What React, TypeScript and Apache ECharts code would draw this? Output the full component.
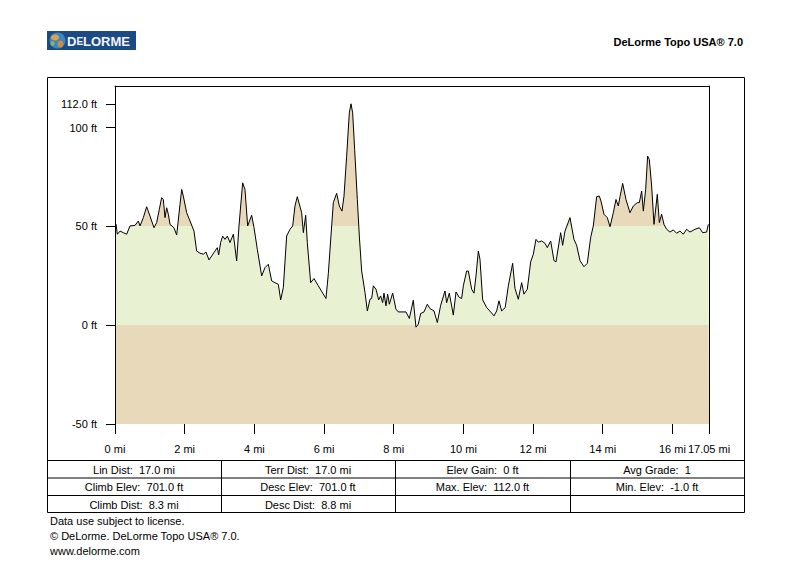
import React, { useEffect, useRef } from "react";
import * as echarts from "echarts";

// ---- data (miles, feet) ----
const distances = [
  0, 0.03, 0.067, 0.144, 0.239, 0.335, 0.43, 0.574, 0.67, 0.718, 0.813, 0.909, 1.005, 1.119, 1.196, 1.272,
  1.339, 1.387, 1.435, 1.483, 1.531, 1.579, 1.693, 1.77, 1.799, 1.866, 1.914, 1.961, 2.057, 2.153, 2.267,
  2.344, 2.44, 2.535, 2.612, 2.698, 2.775, 2.87, 2.937, 2.975, 3.033, 3.09, 3.157, 3.224, 3.301, 3.397,
  3.492, 3.559, 3.664, 3.731, 3.808, 3.923, 3.99, 4.085, 4.21, 4.305, 4.401, 4.497, 4.592, 4.688, 4.755,
  4.832, 4.927, 5.023, 5.1, 5.166, 5.233, 5.358, 5.406, 5.473, 5.52, 5.616, 5.712, 5.836, 6.056, 6.123,
  6.219, 6.267, 6.362, 6.439, 6.515, 6.573, 6.649, 6.726, 6.774, 6.822, 6.879, 6.956, 7.013, 7.08, 7.176,
  7.243, 7.319, 7.367, 7.415, 7.491, 7.568, 7.625, 7.683, 7.721, 7.778, 7.826, 7.874, 7.97, 8.065, 8.132,
  8.353, 8.448, 8.563, 8.639, 8.706, 8.774, 8.869, 8.965, 9.041, 9.156, 9.252, 9.348, 9.472, 9.52, 9.596,
  9.711, 9.788, 9.883, 9.95, 9.998, 10.094, 10.142, 10.237, 10.304, 10.362, 10.429, 10.476, 10.553, 10.668,
  10.783, 10.878, 10.955, 11.022, 11.098, 11.2, 11.29, 11.414, 11.481, 11.577, 11.672, 11.739, 11.835,
  11.931, 12.007, 12.084, 12.151, 12.246, 12.342, 12.409, 12.505, 12.6, 12.658, 12.792, 12.849, 12.916,
  13.06, 13.174, 13.251, 13.346, 13.461, 13.557, 13.653, 13.729, 13.825, 13.902, 13.949, 14.036, 14.131,
  14.208, 14.304, 14.38, 14.447, 14.495, 14.572, 14.667, 14.782, 14.878, 14.993, 15.05, 15.117, 15.165,
  15.232, 15.289, 15.337, 15.404, 15.471, 15.566, 15.624, 15.691, 15.758, 15.834, 15.929, 16.025, 16.121,
  16.217, 16.312, 16.408, 16.504, 16.647, 16.772, 16.868, 16.982, 17.03, 17.05,
];
const elevations = [
  50, 51, 46, 47.6, 46.8, 46, 50.2, 50.5, 52.7, 50.2, 54.4, 59.9, 55.2, 49.3, 51.9, 58.6,
  64.5, 63.6, 54.4, 59.4, 56.1, 51, 49.3, 45.6, 50.2, 61.1, 68.7, 65.3, 56.9, 52.7, 47.6,
  37.5, 36.4, 35.9, 37, 33, 35, 37.5, 39.2, 35.5, 41.8, 45.1, 43.4, 45.1, 41.8, 46,
  32.5, 50.2, 72, 68.7, 50.2, 55.6, 49.3, 38.4, 24.9, 29.1, 30.8, 22.4, 21.5, 20.7, 12.8,
  19, 45.1, 48.5, 50.2, 60.3, 65, 56.9, 46.8, 55.6, 41.8, 21.5, 23.6, 19.9, 13.5, 26,
  50.2, 62, 66.7, 60.3, 57.7, 65.3, 85.5, 107.4, 112, 107.4, 88.9, 63.6, 45.1, 27.4, 16.5,
  7.2, 13.1, 13.5, 19.9, 18.2, 12.8, 14.8, 11.4, 16.2, 9.8, 15.7, 10.6, 16.2, 8.1, 6.7,
  6.7, 3.4, 12.6, -1, 0.5, 5.9, 6.7, 10.6, 8.4, 7.2, 1.3, 10.1, 17.3, 11.4, 16.2,
  5.1, 16.8, 14, 13.5, 19.9, 27.4, 27.4, 18.2, 16.2, 24.9, 37.5, 33.3, 12.8, 8.9,
  6.7, 4.7, 7.2, 12.3, 7.2, 8.9, 19.9, 31.3, 18.6, 13.1, 21.5, 15.7, 18.2,
  32, 35.9, 43.4, 42, 42.6, 41.4, 39.2, 42.6, 32.7, 32, 46.8, 40.4, 47.6,
  54.4, 43.4, 40.4, 32.7, 29.6, 31.3, 44.3, 50.2, 65, 65.3, 62.8, 56.1, 54.4,
  49.8, 56.9, 63.6, 60.3, 65, 71.7, 63.6, 56.9, 60.3, 62, 62, 67.8, 57.7,
  68.7, 85.5, 83.8, 70.4, 51, 66.2, 51.9, 56.1, 51, 48.5, 47.1, 48.2, 46.5,
  47.6, 46, 48.5, 47.1, 48.5, 49.3, 46.8, 47.1, 51, 51,
];
const yTickValues = [-50, 0, 50, 100, 112];
const xTickValues = [0, 2, 4, 6, 8, 10, 12, 14, 16, 17.05];
const yMin = -50;
const yMax = 121;
const xMax = 17.05;
const bandStep = 50;

const statRows = [
  ["Lin Dist:  17.0 mi", "Terr Dist:  17.0 mi", "Elev Gain:  0 ft", "Avg Grade:  1"],
  ["Climb Elev:  701.0 ft", "Desc Elev:  701.0 ft", "Max. Elev:  112.0 ft", "Min. Elev:  -1.0 ft"],
  ["Climb Dist:  8.3 mi", "Desc Dist:  8.8 mi", "", ""],
];
const footerLines = [
  "Data use subject to license.",
  "\u00a9 DeLorme. DeLorme Topo USA\u00ae 7.0.",
  "www.delorme.com",
];
const titleText = "DeLorme Topo USA\u00ae 7.0";

const FONT = "'Liberation Sans', Arial, sans-serif";
const GREEN = "#E9F1D3";
const BEIGE = "#E8D9BA";

export default function App() {
  const ref = useRef<HTMLDivElement>(null);

  useEffect(() => {
    if (!ref.current) return;
    const chart = echarts.init(ref.current, null, { renderer: "svg" });

    const points = distances.map((d, i) => [d, elevations[i]]);
    const vmax = Math.max(...elevations);
    const span = vmax - yMin;
    const o50 = (vmax - bandStep) / span;
    const o0 = vmax / span;
    const fill = new echarts.graphic.LinearGradient(0, 0, 0, 1, [
      { offset: 0, color: BEIGE },
      { offset: o50, color: BEIGE },
      { offset: o50, color: GREEN },
      { offset: o0, color: GREEN },
      { offset: o0, color: BEIGE },
      { offset: 1, color: BEIGE },
    ]);

    // frame & table layout
    const frameL = 47, frameR = 744, frameT = 77, frameB = 512;
    const rowYs = [460, 477.5, 495];
    const colXs = [frameL, 221, 395, 570, frameR];
    const graphics: any[] = [];
    graphics.push({
      type: "rect",
      shape: { x: frameL + 0.5, y: frameT + 0.5, width: frameR - frameL, height: frameB - frameT },
      style: { fill: "none", stroke: "#000", lineWidth: 1 },
      silent: true,
    });
    rowYs.forEach((y) => {
      graphics.push({
        type: "line",
        shape: { x1: frameL, y1: y + 0.5, x2: frameR, y2: y + 0.5 },
        style: { stroke: "#000", lineWidth: 1 },
        silent: true,
      });
    });
    [1, 2, 3].forEach((ci) => {
      graphics.push({
        type: "line",
        shape: { x1: colXs[ci] + 0.5, y1: rowYs[0], x2: colXs[ci] + 0.5, y2: frameB },
        style: { stroke: "#000", lineWidth: 1 },
        silent: true,
      });
    });
    const rowBounds = [rowYs[0], rowYs[1], rowYs[2], frameB];
    statRows.forEach((row, ri) => {
      row.forEach((txt, ci) => {
        if (!txt) return;
        graphics.push({
          type: "text",
          style: {
            text: txt,
            x: (colXs[ci] + colXs[ci + 1]) / 2,
            y: (rowBounds[ri] + rowBounds[ri + 1]) / 2 + 1,
            textAlign: "center",
            textVerticalAlign: "middle",
            font: `11px ${FONT}`,
            fill: "#000",
          },
          silent: true,
        });
      });
    });
    footerLines.forEach((txt, i) => {
      graphics.push({
        type: "text",
        style: {
          text: txt,
          x: 50,
          y: 521 + i * 15,
          textAlign: "left",
          textVerticalAlign: "middle",
          font: `11px ${FONT}`,
          fill: "#000",
        },
        silent: true,
      });
    });
    graphics.push({
      type: "text",
      style: {
        text: titleText,
        x: 743,
        y: 42,
        textAlign: "right",
        textVerticalAlign: "middle",
        font: `bold 11px ${FONT}`,
        fill: "#000",
      },
      silent: true,
    });
    // logo
    graphics.push({
      type: "group",
      silent: true,
      children: [
        { type: "rect", shape: { x: 47, y: 31, width: 89, height: 19 }, style: { fill: "#1C4A85" } },
        { type: "circle", shape: { cx: 57.5, cy: 40.5, r: 8 }, style: { fill: "#3C86C8" } },
        { type: "ellipse", shape: { cx: 55, cy: 37.5, rx: 4, ry: 3 }, style: { fill: "#D9A441" } },
        { type: "ellipse", shape: { cx: 60.5, cy: 44, rx: 3, ry: 3.5 }, style: { fill: "#C98E3A" } },
        { type: "ellipse", shape: { cx: 52.5, cy: 43.5, rx: 2, ry: 2.5 }, style: { fill: "#8FB35A" } },
        {
          type: "text",
          style: {
            text: "{a|D}{b|E}{a|LORME}",
            x: 67,
            y: 41,
            textVerticalAlign: "middle",
            rich: {
              a: { font: `bold 13px ${FONT}`, fill: "#F2F4F8" },
              b: { font: `bold 10px ${FONT}`, fill: "#F2F4F8" },
            },
          },
        },
      ],
    });

    const blackLine = { color: "#000", width: 1 };

    chart.setOption({
      animation: false,
      backgroundColor: "#fff",
      grid: { left: 115, top: 86, width: 594, height: 338, containLabel: false },
      xAxis: [
        {
          type: "value",
          min: 0,
          max: xMax,
          position: "bottom",
          z: 5,
          axisLine: { show: false, onZero: false },
          splitLine: { show: false },
          axisTick: {
            show: true,
            length: 10,
            customValues: xTickValues,
            lineStyle: blackLine,
          },
          axisLabel: {
            customValues: xTickValues,
            margin: 19,
            color: "#000",
            fontFamily: FONT,
            fontSize: 11,
            formatter: (v: number) => (v === xMax ? `${xMax.toFixed(2)} mi` : `${v} mi`),
          },
        },
        {
          type: "value",
          min: 0,
          max: xMax,
          position: "top",
          z: 5,
          axisLine: { show: true, onZero: false, lineStyle: blackLine },
          axisTick: { show: false },
          axisLabel: { show: false },
          splitLine: { show: false },
        },
      ],
      yAxis: [
        {
          type: "value",
          min: yMin,
          max: yMax,
          position: "left",
          z: 5,
          axisLine: { show: true, onZero: false, lineStyle: blackLine },
          splitLine: { show: false },
          axisTick: {
            show: true,
            length: 9,
            customValues: yTickValues,
            lineStyle: blackLine,
          },
          axisLabel: {
            customValues: yTickValues,
            margin: 18,
            color: "#000",
            fontFamily: FONT,
            fontSize: 11,
            formatter: (v: number) => (v === 112 ? "112.0 ft" : `${v} ft`),
          },
        },
        {
          type: "value",
          min: yMin,
          max: yMax,
          position: "right",
          z: 5,
          axisLine: { show: true, onZero: false, lineStyle: blackLine },
          axisTick: { show: false },
          axisLabel: { show: false },
          splitLine: { show: false },
        },
      ],
      series: [
        {
          type: "line",
          xAxisIndex: 0,
          yAxisIndex: 0,
          data: points,
          showSymbol: false,
          symbol: "none",
          lineStyle: { color: "#000", width: 1 },
          areaStyle: { origin: "start", color: fill, opacity: 1 },
          z: 2,
        },
      ],
      graphic: graphics,
    });

    return () => chart.dispose();
  }, []);

  return (
    <div
      ref={ref}
      style={{ position: "absolute", left: 0, top: 0, width: 791, height: 581, background: "#fff" }}
    />
  );
}
